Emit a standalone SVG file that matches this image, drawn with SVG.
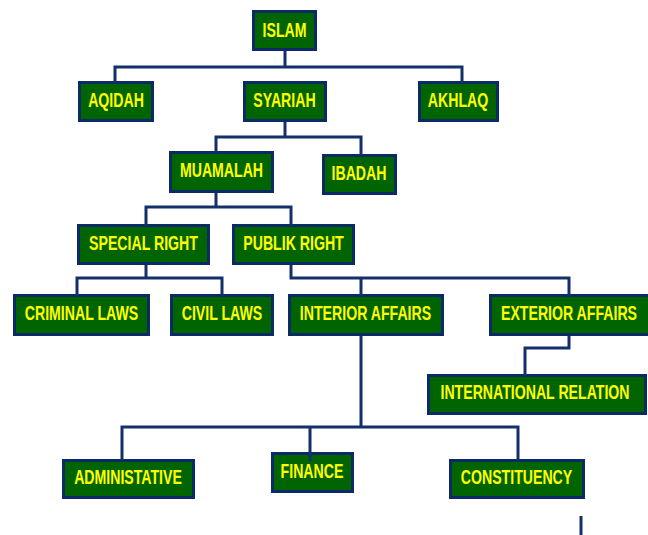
<svg xmlns="http://www.w3.org/2000/svg" width="648" height="535" viewBox="0 0 648 535">
<style>
.n rect{fill:#006400;stroke:#0B2A66;stroke-width:3}
.n text{fill:#FFFF00;font-family:"Liberation Sans",Arial,sans-serif;font-weight:bold;font-size:20px;text-anchor:middle}
.c path{fill:none;stroke:#14306B;stroke-width:3}
</style>
<rect width="648" height="535" fill="#FFFFFF"/>
<g id="nodes" class="n">
<g id="islam"><rect x="253.5" y="11.5" width="62" height="38"/><text transform="translate(284.5 37) scale(0.707 1)">ISLAM</text></g>
<g id="aqidah"><rect x="79.5" y="82.5" width="73" height="38"/><text transform="translate(116 107) scale(0.707 1)">AQIDAH</text></g>
<g id="syariah"><rect x="244.5" y="82.5" width="81" height="38"/><text transform="translate(284.5 107) scale(0.707 1)">SYARIAH</text></g>
<g id="akhlaq"><rect x="419.5" y="82.5" width="78" height="38"/><text transform="translate(458 107) scale(0.707 1)">AKHLAQ</text></g>
<g id="muamalah"><rect x="170.5" y="152.5" width="102" height="39"/><text transform="translate(221.5 177) scale(0.707 1)">MUAMALAH</text></g>
<g id="ibadah"><rect x="323.5" y="155.5" width="72" height="38"/><text transform="translate(359 180) scale(0.707 1)">IBADAH</text></g>
<g id="special-right"><rect x="78.5" y="225.5" width="130" height="38"/><text transform="translate(143.5 250) scale(0.707 1)">SPECIAL RIGHT</text></g>
<g id="publik-right"><rect x="233.5" y="225.5" width="120" height="38"/><text transform="translate(293.5 250) scale(0.707 1)">PUBLIK RIGHT</text></g>
<g id="criminal-laws"><rect x="14.5" y="295.5" width="134" height="39"/><text transform="translate(81.5 320) scale(0.707 1)">CRIMINAL LAWS</text></g>
<g id="civil-laws"><rect x="171.5" y="295.5" width="101" height="39"/><text transform="translate(222 320) scale(0.707 1)">CIVIL LAWS</text></g>
<g id="interior-affairs"><rect x="289.5" y="295.5" width="153" height="39"/><text transform="translate(365.5 320) scale(0.707 1)">INTERIOR AFFAIRS</text></g>
<g id="exterior-affairs"><rect x="490.5" y="295.5" width="160" height="39"/><text transform="translate(569 320) scale(0.707 1)">EXTERIOR AFFAIRS</text></g>
<g id="international-relation"><rect x="428.5" y="375.5" width="217" height="38"/><text transform="translate(535 399) scale(0.707 1)">INTERNATIONAL RELATION</text></g>
<g id="administative"><rect x="63.5" y="460.5" width="130" height="37"/><text transform="translate(128 484) scale(0.707 1)">ADMINISTATIVE</text></g>
<g id="finance"><rect x="272.5" y="453.5" width="80" height="38"/><text transform="translate(312 478) scale(0.707 1)">FINANCE</text></g>
<g id="constituency"><rect x="450.5" y="460.5" width="133" height="37"/><text transform="translate(516.5 484) scale(0.707 1)">CONSTITUENCY</text></g>
</g>
<g id="connectors" class="c">
<path d="M285 51 V67 M115 83 V67 H462 V83"/>
<path d="M285 122 V137 M216 153 V137 H361 V156"/>
<path d="M216 193 V207 M146 226 V207 H291 V226"/>
<path d="M146 265 V278 M77 296 V278 H222 V296"/>
<path d="M291 265 V278 H569 V296 M361 278 V296"/>
<path d="M569 336 V348 H525 V376"/>
<path d="M361 336 V427 M122 461 V427 H518 V461 M310 427 V461"/>
<path d="M581 516 V535"/>
</g>
</svg>
